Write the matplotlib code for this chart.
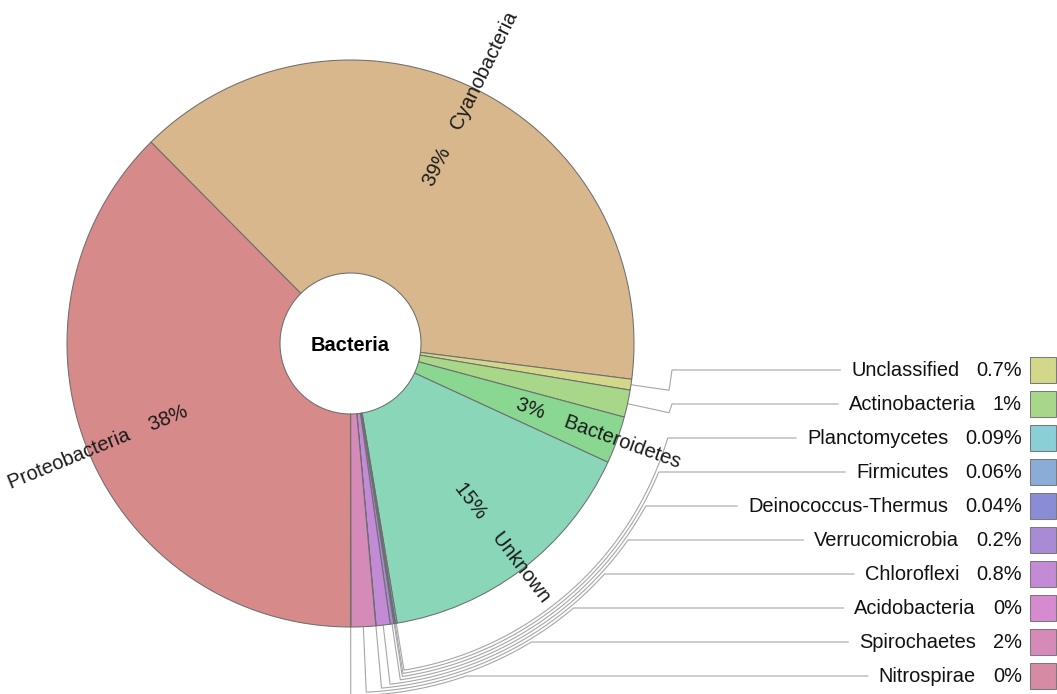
import numpy as np
import matplotlib as mpl
import matplotlib.pyplot as plt
from matplotlib.patches import Rectangle

mpl.rcParams['font.family'] = ['Liberation Sans', 'DejaVu Sans']

# slices, clockwise starting at the bottom of the ring
taxa = ['Proteobacteria', 'Cyanobacteria', 'Unclassified', 'Actinobacteria',
        'Bacteroidetes', 'Unknown', 'Planctomycetes', 'Firmicutes',
        'Deinococcus-Thermus', 'Verrucomicrobia', 'Chloroflexi',
        'Acidobacteria', 'Spirochaetes', 'Nitrospirae']
shares = [37.6, 39.45, 0.62, 1.55, 2.7, 15.5, 0.09, 0.06, 0.04, 0.2, 0.8,
          0.02, 1.4, 0.02]
pct_text = ['38%', '39%', '0.7%', '1%', '3%', '15%', '0.09%', '0.06%',
            '0.04%', '0.2%', '0.8%', '0%', '2%', '0%']
colors = ['#d68a8a', '#d7b78b', '#d2d78a', '#a9d78a', '#8ad792', '#8ad6b9',
          '#8acfd6', '#8aacd6', '#8a8cd6', '#a88ad6', '#c38ad6', '#d68ad0',
          '#d68ab8', '#d68aa4']

# names written inside the ring / names listed in the key on the right
ring_labels = ['Proteobacteria', 'Cyanobacteria', 'Bacteroidetes', 'Unknown']
key_labels = ['Unclassified', 'Actinobacteria', 'Planctomycetes', 'Firmicutes',
              'Deinococcus-Thermus', 'Verrucomicrobia', 'Chloroflexi',
              'Acidobacteria', 'Spirochaetes', 'Nitrospirae']

W, H = 1057, 694
cx, cy = 350.5, H - 343.5
R, r0 = 283.5, 70.5
fs = 14.4
line_col = '#a6a6a6'

fig = plt.figure(figsize=(W / 100, H / 100), dpi=100)
ax = fig.add_axes([0, 0, 1, 1])
ax.pie(shares, colors=colors, startangle=-90, counterclock=False, radius=R,
       center=(cx, cy), wedgeprops=dict(width=R - r0, edgecolor='#6e6e6e', linewidth=0.75))
ax.set_xlim(0, W)
ax.set_ylim(0, H)
ax.set_aspect('equal')
ax.axis('off')

# angle of each slice middle, degrees clockwise from 12 o'clock
frac = np.array(shares) / np.sum(shares)
cum = np.concatenate([[0], np.cumsum(frac)])
mid_a = 180 + 360 * (cum[:-1] + frac / 2)


def pt(a, r):
    rad = np.radians(a)
    return cx + r * np.sin(rad), cy + r * np.cos(rad)


# labels inside the ring
for name in ring_labels:
    i = taxa.index(name)
    a = mid_a[i] % 360
    x, y = pt(a, 177)
    theta = 90 - a
    if a <= 180:
        ax.text(x, y, pct_text[i] + '    ' + name, rotation=theta, rotation_mode='anchor',
                ha='left', va='center', fontsize=fs, color='#1a1a1a')
    else:
        ax.text(x, y, name + '    ' + pct_text[i], rotation=theta + 180, rotation_mode='anchor',
                ha='right', va='center', fontsize=fs, color='#1a1a1a')

ax.text(cx, cy - 2, 'Bacteria', ha='center', va='center', fontsize=fs,
        fontweight='bold', color='black')

# key on the right
renderer = fig.canvas.get_renderer()
inv = ax.transData.inverted()
side_k = 0
arc_k = 0
for j, name in enumerate(key_labels):
    i = taxa.index(name)
    ty = H - (370 + 34 * j)
    ax.add_patch(Rectangle((1030, ty - 13), 26, 26, facecolor=colors[i],
                           edgecolor='#7a7a7a', linewidth=0.75))
    tp = ax.text(1022, ty, pct_text[i], ha='right', va='center', fontsize=fs, color='#111111')
    x0 = inv.transform(tp.get_window_extent(renderer))[0, 0]
    tn = ax.text(x0 - 17, ty, name, ha='right', va='center', fontsize=fs, color='#111111')
    xend = inv.transform(tn.get_window_extent(renderer))[0, 0] - 11

    a = mid_a[i] % 360
    xs, ys = pt(a, R)
    if a < 120:
        rk = 322 + 4 * side_k
        side_k += 1
        xk, yk = pt(a, rk)
        px = [xs, xk, 672, xend]
        py = [ys, yk, ty, ty]
    else:
        rk = 331 + 3 * arc_k
        arc_k += 1
        a_end = np.degrees(np.arccos((ty - cy) / rk))
        arc = np.linspace(a, a_end, 80)
        ax_, ay_ = pt(arc, rk)
        px = np.concatenate([[xs], ax_, [xend]])
        py = np.concatenate([[ys], ay_, [ty]])
    ax.plot(px, py, color=line_col, linewidth=0.8, solid_joinstyle='miter', zorder=0.5)

fig.savefig('out.png', dpi=100)
